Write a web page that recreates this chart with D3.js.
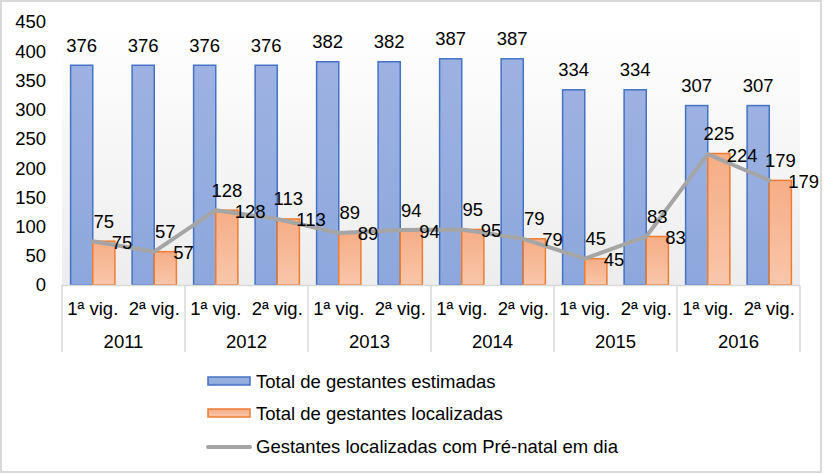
<!DOCTYPE html>
<html>
<head>
<meta charset="utf-8">
<script src="https://cdn.jsdelivr.net/npm/d3@7"></script>
<style>
  html, body { margin: 0; padding: 0; background: #fff; }
  svg { display: block; font-family: "Liberation Sans", Arial, sans-serif; }
</style>
</head>
<body>
<svg id="chart" width="824" height="474"></svg>
<script>
const years = ["2011", "2012", "2013", "2014", "2015", "2016"];
const periods = ["1ª vig.", "2ª vig."];
const estimadas = [376, 376, 376, 376, 382, 382, 387, 387, 334, 334, 307, 307];
const localizadas = [75, 57, 128, 113, 89, 94, 95, 79, 45, 83, 225, 179];
const prenatal = [75, 57, 128, 113, 89, 94, 95, 79, 45, 83, 224, 179];
const yTicks = [0, 50, 100, 150, 200, 250, 300, 350, 400, 450];
const seriesNames = ["Total de gestantes estimadas", "Total de gestantes localizadas", "Gestantes localizadas com Pré-natal em dia"];

const cats = [];
years.forEach(yr => periods.forEach(p => cats.push(yr + "|" + p)));

const svg = d3.select("#chart");
const pLeft = 62, pRight = 800, pTop = 22, pBottom = 285;
const FS = 18.5;

// defs
const defs = svg.append("defs");
const bg = defs.append("linearGradient").attr("id", "bgGrad").attr("x1", 0).attr("x2", 0).attr("y1", 0).attr("y2", 1);
bg.append("stop").attr("offset", "0%").attr("stop-color", "#ffffff");
bg.append("stop").attr("offset", "100%").attr("stop-color", "#ededed");
const gb = defs.append("linearGradient").attr("id", "blueGrad").attr("x1", 0).attr("x2", 0).attr("y1", 0).attr("y2", 1);
gb.append("stop").attr("offset", "0%").attr("stop-color", "#9db2e2");
gb.append("stop").attr("offset", "100%").attr("stop-color", "#8da7dc");
const go = defs.append("linearGradient").attr("id", "orangeGrad").attr("x1", 0).attr("x2", 0).attr("y1", 0).attr("y2", 1);
go.append("stop").attr("offset", "0%").attr("stop-color", "#f5ad86");
go.append("stop").attr("offset", "100%").attr("stop-color", "#f9c6aa");

// border
svg.append("rect").attr("x", 1).attr("y", 1).attr("width", 820).attr("height", 471)
  .attr("fill", "#fff").attr("stroke", "#d9d9d9").attr("stroke-width", 2);

// plot background
svg.append("rect").attr("x", pLeft).attr("y", pTop).attr("width", pRight - pLeft).attr("height", pBottom - pTop)
  .attr("fill", "url(#bgGrad)");

const x0 = d3.scaleBand().domain(cats).range([pLeft, pRight]).paddingInner(0.28).paddingOuter(0.14);
const x1 = d3.scaleBand().domain(["est", "loc"]).range([0, x0.bandwidth()]);
const y = d3.scaleLinear().domain([0, 450]).range([pBottom, pTop]);
const cx = c => x0(c) + x0.bandwidth() / 2;

// y axis labels
const yAxis = d3.axisLeft(y).tickValues(yTicks).tickSize(0).tickPadding(0);
const ya = svg.append("g").attr("transform", `translate(46,0)`).call(yAxis);
ya.select(".domain").remove();
ya.selectAll("text").attr("font-size", FS).attr("fill", "#000").attr("font-family", "Liberation Sans, Arial, sans-serif");

// bars
svg.append("g").selectAll("rect").data(cats).join("rect")
  .attr("x", c => x0(c) + x1("est"))
  .attr("y", (c, i) => y(estimadas[i]))
  .attr("width", x1.bandwidth())
  .attr("height", (c, i) => y(0) - y(estimadas[i]))
  .attr("fill", "url(#blueGrad)").attr("stroke", "#4472c4").attr("stroke-width", 1.5);

svg.append("g").selectAll("rect").data(cats).join("rect")
  .attr("x", c => x0(c) + x1("loc"))
  .attr("y", (c, i) => y(localizadas[i]))
  .attr("width", x1.bandwidth())
  .attr("height", (c, i) => y(0) - y(localizadas[i]))
  .attr("fill", "url(#orangeGrad)").attr("stroke", "#ed7d31").attr("stroke-width", 1.5);

// category axis
const axG = svg.append("g").attr("stroke", "#d9d9d9").attr("stroke-width", 1.5);
axG.append("line").attr("x1", pLeft).attr("x2", pRight).attr("y1", pBottom + 0.5).attr("y2", pBottom + 0.5);
const bounds = years.map(yr => x0(yr + "|" + periods[0]) - x0.step() * 0.14);
bounds.push(pRight);
axG.selectAll("line.sep").data(bounds).join("line").attr("class", "sep")
  .attr("x1", d => d).attr("x2", d => d).attr("y1", pBottom).attr("y2", 352);

// line
const lineGen = d3.line().x(d => d[0]).y(d => d[1]);
const pts = cats.map((c, i) => [cx(c), y(prenatal[i])]);
svg.append("path").attr("d", lineGen(pts)).attr("fill", "none")
  .attr("stroke", "#a5a5a5").attr("stroke-width", 4).attr("stroke-linejoin", "round").attr("stroke-linecap", "round");

// labels
const lab = svg.append("g").attr("font-size", FS).attr("fill", "#000");
lab.selectAll("text.est").data(cats).join("text").attr("class", "est")
  .attr("x", c => x0(c) + x1("est") + x1.bandwidth() / 2)
  .attr("y", (c, i) => y(estimadas[i]) - 20)
  .attr("text-anchor", "middle").attr("dominant-baseline", "central")
  .text((c, i) => estimadas[i]);
lab.selectAll("text.loc").data(cats).join("text").attr("class", "loc")
  .attr("x", c => x0(c) + x1("loc") + x1.bandwidth() / 2)
  .attr("y", (c, i) => y(localizadas[i]) - 20)
  .attr("text-anchor", "middle").attr("dominant-baseline", "central")
  .text((c, i) => localizadas[i]);
lab.selectAll("text.pn").data(cats).join("text").attr("class", "pn")
  .attr("x", c => cx(c) + 19)
  .attr("y", (c, i) => y(prenatal[i]) + 1)
  .attr("text-anchor", "start").attr("dominant-baseline", "central")
  .text((c, i) => prenatal[i]);

// category labels
const cl = svg.append("g").attr("font-size", FS).attr("fill", "#000").attr("text-anchor", "middle").attr("dominant-baseline", "central");
cl.selectAll("text.per").data(cats).join("text").attr("class", "per")
  .attr("x", c => cx(c)).attr("y", 308).text(c => c.split("|")[1]);
cl.selectAll("text.yr").data(years).join("text").attr("class", "yr")
  .attr("x", (yr, i) => (bounds[i] + bounds[i + 1]) / 2).attr("y", 341).text(d => d);

// legend
const lg = svg.append("g").attr("font-size", FS).attr("fill", "#000");
const rows = [381, 413, 446];
lg.append("rect").attr("x", 208).attr("y", rows[0] - 4).attr("width", 42).attr("height", 8)
  .attr("fill", "url(#blueGrad)").attr("stroke", "#4472c4").attr("stroke-width", 1.5);
lg.append("rect").attr("x", 208).attr("y", rows[1] - 4).attr("width", 42).attr("height", 8)
  .attr("fill", "url(#orangeGrad)").attr("stroke", "#ed7d31").attr("stroke-width", 1.5);
lg.append("line").attr("x1", 208).attr("x2", 250).attr("y1", rows[2] + 1).attr("y2", rows[2] + 1)
  .attr("stroke", "#a5a5a5").attr("stroke-width", 4).attr("stroke-linecap", "round");
lg.selectAll("text").data(seriesNames).join("text")
  .attr("x", 256).attr("y", (d, i) => rows[i]).attr("dominant-baseline", "central").text(d => d);
</script>
</body>
</html>
